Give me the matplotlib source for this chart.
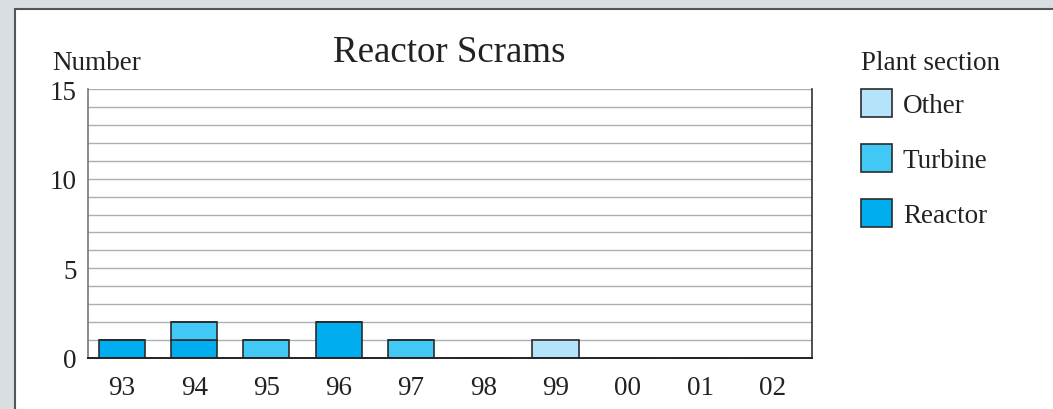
import matplotlib
matplotlib.use("Agg")
import matplotlib.pyplot as plt
from matplotlib.patches import Patch, Rectangle

# data
years = ["93", "94", "95", "96", "97", "98", "99", "00", "01", "02"]
reactor = [1, 1, 0, 2, 0, 0, 0, 0, 0, 0]
turbine = [0, 1, 1, 0, 1, 0, 0, 0, 0, 0]
other = [0, 0, 0, 0, 0, 0, 1, 0, 0, 0]
y_ticks = [0, 5, 10, 15]

c_reactor = "#00aeef"
c_turbine = "#42c8f4"
c_other = "#b5e4fa"
edge = "#2b2b2b"
txt = "#222222"
fs = 19.5

plt.rcParams["font.family"] = ["Liberation Serif", "DejaVu Serif"]

W, H = 1053, 410
fig = plt.figure(figsize=(W / 100, H / 100), dpi=100)
fig.patch.set_facecolor("#d9dee2")

# white panel with a dark border on top/left
fig.add_artist(Rectangle((14.5 / W, -0.05), 1.1, 1 - 9.5 / H + 0.05,
                         transform=fig.transFigure, facecolor="white",
                         edgecolor="#555555", linewidth=1.5, zorder=0))

ax = fig.add_axes([88 / W, 1 - 359 / H, (812 - 88) / W, (359 - 90) / H])
ax.set_facecolor("none")

x = range(len(years))
bw = 0.637
ax.bar(x, reactor, width=bw, color=c_reactor, edgecolor=edge, linewidth=1.2, zorder=3)
ax.bar(x, turbine, width=bw, bottom=reactor, color=c_turbine, edgecolor=edge,
       linewidth=1.2, zorder=3)
base2 = [r + t for r, t in zip(reactor, turbine)]
ax.bar(x, other, width=bw, bottom=base2, color=c_other, edgecolor=edge,
       linewidth=1.2, zorder=3)

ax.set_xlim(-0.47, len(years) - 0.45)
ax.set_ylim(0, 15)
ax.set_xticks(list(x))
ax.set_xticklabels(years)
ax.set_yticks(y_ticks)
ax.set_yticks(range(0, 16), minor=True)
ax.yaxis.grid(True, which="both", color="#a9afb4", linewidth=1.0, zorder=1)
ax.set_axisbelow(True)
ax.tick_params(axis="both", which="both", length=0, labelsize=fs, colors=txt)
ax.tick_params(axis="x", pad=12)
ax.tick_params(axis="y", pad=8)

ax.spines["top"].set_visible(False)
ax.spines["left"].set_color("#777777")
ax.spines["left"].set_linewidth(1.2)
ax.spines["bottom"].set_color("#222222")
ax.spines["bottom"].set_linewidth(1.4)
ax.spines["bottom"].set_zorder(4)
ax.spines["right"].set_color("#333333")
ax.spines["right"].set_linewidth(1.2)

fig.text(52 / W, 1 - 70 / H, "Number", fontsize=fs, color=txt, va="baseline")
fig.text(449 / W, 1 - 62 / H, "Reactor Scrams", fontsize=26.6, color=txt,
         ha="center", va="baseline")
fig.text(861 / W, 1 - 70 / H, "Plant section", fontsize=fs, color=txt, va="baseline")

handles = [Patch(facecolor=c_other, edgecolor=edge, linewidth=1.2, label="Other"),
           Patch(facecolor=c_turbine, edgecolor=edge, linewidth=1.2, label="Turbine"),
           Patch(facecolor=c_reactor, edgecolor=edge, linewidth=1.2, label="Reactor")]
leg = fig.legend(handles=handles, loc="upper left",
                 bbox_to_anchor=(861 / W, 1 - 90 / H), frameon=False,
                 fontsize=fs, handlelength=1.15, handleheight=1.21,
                 handletextpad=0.4, labelspacing=0.95, borderpad=0, borderaxespad=0)
for t in leg.get_texts():
    t.set_color(txt)

fig.savefig("out.png", dpi=100, facecolor=fig.get_facecolor())
